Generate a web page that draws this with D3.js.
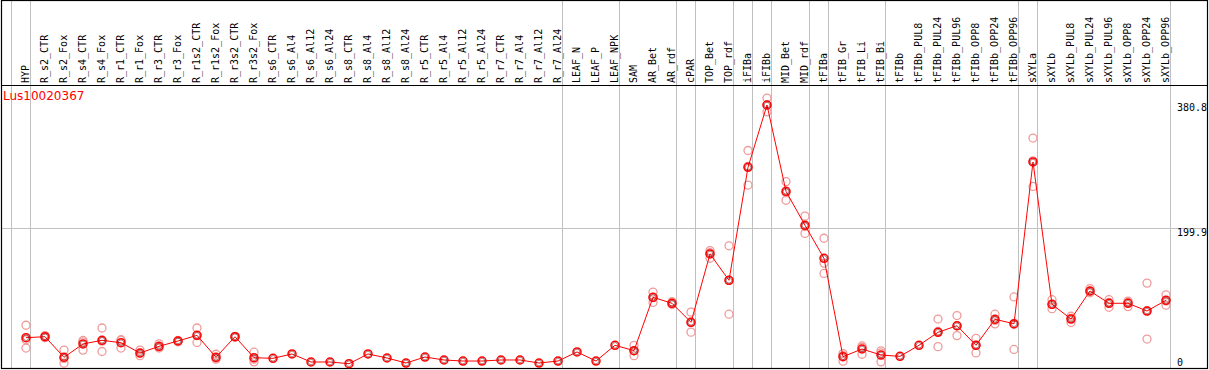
<!DOCTYPE html>
<html>
<head>
<meta charset="utf-8">
<script src="https://cdn.jsdelivr.net/npm/d3@7"></script>
<style>
html,body{margin:0;padding:0;background:#fff;}
svg{display:block;}
</style>
</head>
<body>
<svg id="chart" width="1209" height="370"></svg>
<script>
const title = "Lus10020367";
const categories = ["HYP","R_s2_CTR","R_s2_Fox","R_s4_CTR","R_s4_Fox","R_r1_CTR","R_r1_Fox","R_r3_CTR","R_r3_Fox","R_r1s2_CTR","R_r1s2_Fox","R_r3s2_CTR","R_r3s2_Fox","R_s6_CTR","R_s6_Al4","R_s6_Al12","R_s6_Al24","R_s8_CTR","R_s8_Al4","R_s8_Al12","R_s8_Al24","R_r5_CTR","R_r5_Al4","R_r5_Al12","R_r5_Al24","R_r7_CTR","R_r7_Al4","R_r7_Al12","R_r7_Al24","LEAF_N","LEAF_P","LEAF_NPK","SAM","AR_Bet","AR_rdf","cPAR","TOP_Bet","TOP_rdf","iFIBa","iFIBb","MID_Bet","MID_rdf","tFIBa","tFIB_Gr","tFIB_Li","tFIB_Bi","tFIBb","tFIBb_PUL8","tFIBb_PUL24","tFIBb_PUL96","tFIBb_OPP8","tFIBb_OPP24","tFIBb_OPP96","sXYLa","sXYLb","sXYLb_PUL8","sXYLb_PUL24","sXYLb_PUL96","sXYLb_OPP8","sXYLb_OPP24","sXYLb_OPP96"];
const means = [41.0,42.4,12.6,31.9,37.2,33.7,18.8,28.5,36.2,44.4,12.6,42.4,12.0,11.1,17.4,5.8,5.8,3.3,17.4,11.6,4.3,13.0,8.7,7.2,7.2,8.7,8.7,4.3,7.2,20.3,7.2,30.0,22.2,99.5,90.8,63.3,162.2,124.1,287.7,377.9,252.9,203.7,155.9,13.5,24.6,15.9,14.0,30.0,48.8,58.3,30.0,67.6,61.2,295.4,89.3,68.0,108.6,90.8,90.8,79.6,95.1];
const replicates = [
  [59,26,38],[44,42,41],[23,4,11],[37,23,35],[55,21,36],[38,26,37],[23,15,18],[32,26,27],[37,35,36],[55,34,44],
  [17,10,11],[43,42,42],[20,6,10],[],[],[],[],[],[],[],
  [],[],[],[],[],[],[],[],[],[],
  [],[],[30,15,22],[107,92,99],[93,90,89],[78,49,63],[167,156,164],[174,75,124],[312,262,289],[388,368,378],
  [267,240,251],[217,192,202],[185,149,134],[18,7,15],[29,17,27],[22,6,19],[],[],[68,28,50],[73,44,58],
  [40,19,30],[75,61,66],[100,24,60],[330,260,297],[96,83,89],[72,63,69],[112,106,108],[96,85,92],[94,86,92],[120,39,80],
  [103,88,94]
];
const yTicks = [0, 199.9, 380.8];
const yGrid = [199.9];
const groupEnds = ["HYP","R_r7_Al24","LEAF_NPK","AR_rdf","cPAR","TOP_rdf","iFIBa","iFIBb","MID_rdf","tFIBa","tFIB_Bi","tFIBb_OPP96","sXYLa","sXYLb_OPP96"];

(function () {
const svg = d3.select("#chart");
const fLeft = 1.5, fRight = 1207.5, fTop = 0.5, fBottom = 368.5, headerY = 85.5;

const x = d3.scalePoint().domain(categories).range([26, 1166]);
const step = x.step();
const y = d3.scaleLinear().domain([0, 380.8]).range([366, 103]);

// vertical separators
const sepX = [x(categories[0]) - step + 4].concat(groupEnds.map(c => x(c) + 4));
svg.append("g").selectAll("line").data(sepX).join("line")
  .attr("x1", d => Math.round(d) + 0.5).attr("x2", d => Math.round(d) + 0.5)
  .attr("y1", fTop).attr("y2", fBottom)
  .attr("stroke", "#c0c0c0").attr("stroke-width", 1);

// horizontal grid
svg.append("g").selectAll("line").data(yGrid).join("line")
  .attr("x1", fLeft).attr("x2", fRight)
  .attr("y1", d => Math.round(y(d)) + 0.5).attr("y2", d => Math.round(y(d)) + 0.5)
  .attr("stroke", "#c0c0c0").attr("stroke-width", 1);

// y tick labels
svg.append("g").selectAll("text").data(yTicks).join("text")
  .attr("x", 1177)
  .attr("y", d => Math.min(y(d) + 8, 366))
  .attr("font-family", "DejaVu Sans Mono, monospace")
  .attr("font-size", 10)
  .attr("fill", "#000")
  .text(d => d === 0 ? "0" : d3.format(".1f")(d));

// frame
const frame = svg.append("g").attr("stroke", "#000").attr("stroke-width", 1.2).attr("fill", "none");
frame.append("rect").attr("x", fLeft).attr("y", fTop).attr("width", fRight - fLeft).attr("height", fBottom - fTop);
frame.append("line").attr("x1", fLeft).attr("x2", fRight).attr("y1", headerY).attr("y2", headerY);

// category labels
svg.append("g").selectAll("text").data(categories).join("text")
  .attr("transform", d => `translate(${x(d) + 3.4},83) rotate(-90)`)
  .attr("font-family", "DejaVu Sans Mono, monospace")
  .attr("font-size", 10)
  .attr("fill", "#000")
  .text(d => d);

// title
svg.append("text").attr("x", 3).attr("y", 100)
  .attr("font-family", "DejaVu Sans, sans-serif").attr("font-size", 12)
  .attr("fill", "#ff0000").text(title);

// replicates
const repData = [];
replicates.forEach((arr, i) => arr.forEach(v => repData.push({c: categories[i], v})));
svg.append("g").selectAll("circle").data(repData).join("circle")
  .attr("cx", d => x(d.c)).attr("cy", d => y(d.v)).attr("r", 4)
  .attr("fill", "none").attr("stroke", "#f09a9a").attr("stroke-width", 1.3);

// mean line
const line = d3.line().x((d, i) => x(categories[i])).y(d => y(d));
svg.append("path").datum(means).attr("d", line)
  .attr("fill", "none").attr("stroke", "#ff0000").attr("stroke-width", 1);

// mean markers
const mg = svg.append("g");
mg.selectAll("circle.o").data(means).join("circle").attr("class", "o")
  .attr("cx", (d, i) => x(categories[i])).attr("cy", d => y(d)).attr("r", 4)
  .attr("fill", "none").attr("stroke", "#ff0000").attr("stroke-width", 1.5);
mg.selectAll("circle.i").data(means).join("circle").attr("class", "i")
  .attr("cx", (d, i) => x(categories[i])).attr("cy", d => y(d)).attr("r", 2.8)
  .attr("fill", "none").attr("stroke", "#600000").attr("stroke-width", 0.5);
})();
</script>
</body>
</html>
